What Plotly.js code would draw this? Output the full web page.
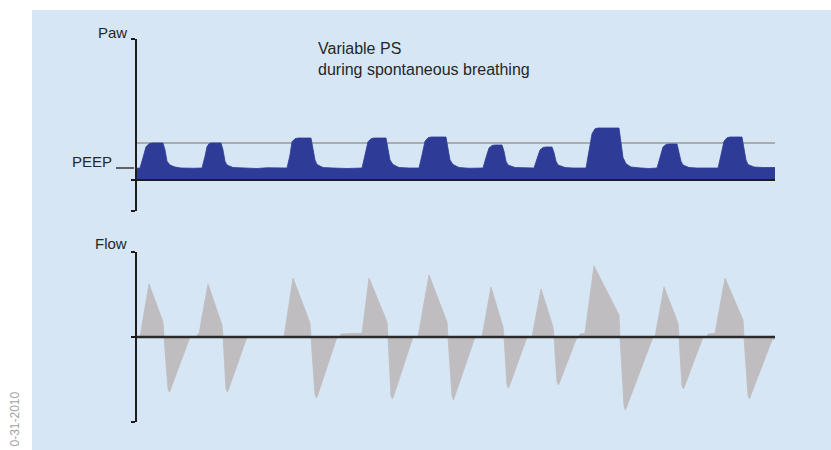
<!DOCTYPE html>
<html><head><meta charset="utf-8">
<script src="https://cdn.plot.ly/plotly-3.0.1.min.js"></script>
<style>html,body{margin:0;padding:0;background:#fff}#chart{width:831px;height:450px}</style>
</head><body><div id="chart"></div>
<script>
// Airway pressure (Paw) trace, time in s, pressure in cmH2O (relative to axis baseline)
const pawTime = [0,
  0.15,0.3,0.45,0.6,0.75,1.3,1.4,1.5,1.65,1.9,2.2,2.8,3.1,
  3.25,3.4,3.5,3.6,3.7,4.2,4.3,4.4,4.5,4.8,5.2,6.0,6.5,7.0,7.5,
  7.65,7.75,7.9,8.05,8.7,8.8,8.9,9.0,9.3,9.8,10.5,11.25,
  11.4,11.55,11.7,11.85,12.45,12.55,12.65,12.8,13.1,13.6,14.1,
  14.25,14.4,14.55,14.7,15.45,15.55,15.65,15.8,16.1,16.6,17.3,
  17.45,17.6,17.75,17.9,18.25,18.35,18.45,18.55,18.9,19.3,19.85,
  20.0,20.15,20.3,20.45,20.75,20.85,20.95,21.05,21.4,21.8,22.45,
  22.6,22.75,22.9,23.05,24.1,24.2,24.3,24.45,24.7,25.2,25.6,26.0,
  26.15,26.3,26.45,26.6,27.0,27.1,27.2,27.3,27.6,28.0,29.05,
  29.2,29.35,29.5,29.65,30.25,30.35,30.45,30.55,30.85,31.3,31.9];
const pawValue = [4.7,
  4.8,9.0,13.3,14.5,14.8,14.8,12.0,7.5,6.0,5.2,4.8,4.7,4.8,
  4.8,9.5,13.3,14.5,14.8,14.8,12.0,7.5,6.0,5.0,4.8,4.6,4.9,4.7,4.8,
  10.0,15.3,16.5,16.8,16.8,13.0,8.0,6.2,5.0,4.8,4.6,4.8,
  10.0,15.3,16.5,16.8,16.8,13.0,8.0,6.2,5.0,4.8,4.8,
  10.0,15.5,16.9,17.2,17.2,13.0,8.0,6.2,5.0,4.7,4.8,
  9.0,12.8,13.8,14.0,14.0,11.5,7.5,6.0,5.0,4.8,4.8,
  8.5,12.0,13.0,13.2,13.2,11.0,7.5,6.0,5.0,4.8,4.8,
  11.0,18.5,20.5,20.8,20.8,15.0,9.0,6.5,5.2,4.8,4.6,4.8,
  9.5,13.2,14.2,14.4,14.4,11.5,7.5,6.0,5.0,4.8,4.8,
  10.0,15.5,16.9,17.2,17.2,13.0,8.0,6.2,5.2,5.0,5.0];

// Flow trace, time in s, flow in L/min
const flowTime = [0,
  0.15,0.6,1.3,1.35,1.55,1.62,1.7,2.65,
  3.0,3.05,3.1,3.55,4.25,4.3,4.45,4.52,4.6,5.5,
  7.35,7.8,8.65,8.7,8.9,8.97,9.05,10.0,
  10.15,10.2,11.2,11.25,11.6,12.5,12.55,12.7,12.77,12.85,13.8,
  14.05,14.6,15.5,15.55,15.75,15.82,15.9,16.9,
  17.25,17.7,18.3,18.35,18.5,18.57,18.65,19.5,
  19.75,20.2,20.8,20.85,21.0,21.07,21.15,22.0,
  22.1,22.15,22.4,22.85,24.1,24.15,24.35,24.42,24.5,25.8,
  25.9,26.35,27.05,27.1,27.25,27.32,27.4,28.3,
  28.5,28.55,28.9,29.4,30.3,30.35,30.55,30.62,30.7,31.75,31.9];
const flowValue = [0,
  0,35.3,10.0,0,-34.5,-36.7,-34.0,0,
  0,2.0,2.0,35.3,8.0,0,-34.5,-36.7,-34.0,0,
  0,39.3,9.3,0,-38.5,-40.7,-38.0,0,
  0,2.0,2.2,2.5,39.3,10.0,0,-39.0,-41.3,-38.5,0,
  0,41.3,10.0,0,-39.5,-42.0,-39.0,0,
  0,33.3,6.7,0,-32.0,-34.0,-31.5,0,
  0,32.0,6.7,0,-30.0,-32.0,-29.5,0,
  0,2.0,2.5,47.3,14.7,0,-46.0,-48.7,-46.0,0,
  0,33.3,9.3,0,-32.5,-34.7,-32.0,0,
  0,2.0,2.5,39.3,11.3,0,-39.0,-41.3,-38.5,-2.0,-1.0];

const refTime = [0, 31.9];
const refLevel = [14.8, 14.8];
const peepLevel = 4.8;
const timeRange = [0, 31.9];
const pawRange = [-12.4, 56.4];
const flowRange = [-56.7, 56.7];
const pawTicks = [-12.3, 0, 56.3];
const flowTicks = [-56.6, 0, 56.6];

const W = 831, H = 450;
const px = v => v / W, py = v => 1 - v / H;
const font = 'Liberation Sans, Arial, Helvetica, sans-serif';
const ink = '#1c1c1c';

const traces = [
  {x: refTime, y: refLevel, xaxis: 'x', yaxis: 'y', mode: 'lines',
   line: {color: '#9a9a9a', width: 1.6}, hoverinfo: 'skip'},
  {x: pawTime, y: pawValue, xaxis: 'x', yaxis: 'y', mode: 'lines', fill: 'tozeroy',
   fillcolor: '#2e3b97', line: {color: '#2e3b97', width: 0.8}, hoverinfo: 'skip'},
  {x: flowTime, y: flowValue, xaxis: 'x2', yaxis: 'y2', mode: 'lines', fill: 'tozeroy',
   fillcolor: '#bfbdbf', line: {color: '#bfbdbf', width: 0.8}, hoverinfo: 'skip'}
];

const yBase = {showline: true, linecolor: ink, linewidth: 2, ticks: 'outside', ticklen: 4,
  tickwidth: 2, tickcolor: ink, showticklabels: false, showgrid: false, zeroline: false,
  fixedrange: true};

const layout = {
  width: W, height: H, margin: {l: 0, r: 0, t: 0, b: 0},
  paper_bgcolor: '#ffffff', plot_bgcolor: 'rgba(0,0,0,0)', showlegend: false,
  font: {family: font, size: 15, color: '#262626'},
  xaxis: {domain: [px(137), px(775)], range: timeRange, visible: false, anchor: 'y', fixedrange: true},
  xaxis2: {domain: [px(137), px(775)], range: timeRange, visible: false, anchor: 'y2', fixedrange: true},
  yaxis: Object.assign({}, yBase, {domain: [py(211), py(39)], range: pawRange, tickvals: pawTicks, anchor: 'x'}),
  yaxis2: Object.assign({}, yBase, {domain: [py(422), py(252)], range: flowRange, tickvals: flowTicks, anchor: 'x2'}),
  shapes: [
    {type: 'rect', xref: 'paper', yref: 'paper', x0: px(32), x1: 1, y0: 0, y1: py(10),
     fillcolor: '#d6e6f5', line: {width: 0}, layer: 'below'},
    {type: 'line', xref: 'paper', yref: 'y', x0: px(137), x1: px(775), y0: 0, y1: 0,
     line: {color: ink, width: 2}, layer: 'above'},
    {type: 'line', xref: 'paper', yref: 'y2', x0: px(137), x1: px(775), y0: 0, y1: 0,
     line: {color: '#2a2a2a', width: 2.5}, layer: 'above'},
    {type: 'line', xref: 'paper', yref: 'y', x0: px(116), x1: px(134), y0: peepLevel, y1: peepLevel,
     line: {color: ink, width: 1.3}, layer: 'above'}
  ],
  annotations: [
    {text: 'Paw', xref: 'paper', yref: 'paper', x: px(129), y: py(32), xanchor: 'right', yanchor: 'middle', showarrow: false},
    {text: 'Flow', xref: 'paper', yref: 'paper', x: px(129), y: py(243.5), xanchor: 'right', yanchor: 'middle', showarrow: false},
    {text: 'PEEP', xref: 'paper', yref: 'paper', x: px(114), y: py(161), xanchor: 'right', yanchor: 'middle', showarrow: false},
    {text: 'Variable PS<br>during spontaneous breathing', xref: 'paper', yref: 'paper', x: px(316), y: py(58.5),
     xanchor: 'left', yanchor: 'middle', align: 'left', showarrow: false, font: {size: 16, color: '#262626'}},
    {text: '0-31-2010', xref: 'paper', yref: 'paper', x: px(14), y: py(448), xanchor: 'center', yanchor: 'bottom',
     textangle: -90, showarrow: false, font: {size: 12, color: '#a3a3a6'}}
  ]
};

Plotly.newPlot('chart', traces, layout, {staticPlot: true, displayModeBar: false});
</script></body></html>
